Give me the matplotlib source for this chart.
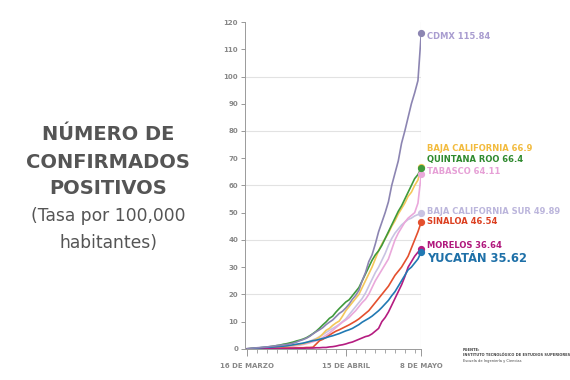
import matplotlib
matplotlib.use("Agg")
import matplotlib.pyplot as plt
import matplotlib.dates as mdates
import pandas as pd

# ---- data (tasa por 100,000 habitantes, 16 mar - 8 may) ----
dates = pd.date_range("2020-03-16", "2020-05-08", freq="D")

cdmx = [0.1, 0.2, 0.3, 0.4, 0.5, 0.6, 0.7, 0.9, 1.0, 1.2,
        1.3, 1.5, 1.6, 1.8, 2.1, 2.5, 3.0, 3.4, 3.9, 4.6,
        5.5, 6.3, 7.0, 7.8, 8.9, 9.8, 10.6, 11.8, 13.0, 13.8,
        15.0, 16.4, 18.2, 19.6, 21.5, 25.0, 28.0, 32.0, 34.5, 38.5,
        43.0, 46.5, 50.0, 54.0, 60.0, 64.5, 69.0, 75.5, 80.0, 85.0,
        90.0, 94.0, 98.5, 115.84]
baja_california = [0.0, 0.1, 0.1, 0.2, 0.3, 0.3, 0.4, 0.5, 0.6, 0.7,
                   0.8, 0.9, 1.0, 1.2, 1.3, 1.5, 1.7, 1.9, 2.2, 2.6,
                   3.0, 3.6, 4.3, 5.5, 6.8, 7.5, 8.6, 9.5, 10.2, 12.0,
                   14.0, 15.5, 17.0, 18.5, 20.0, 22.5, 25.0, 27.5, 30.0, 33.0,
                   36.0, 38.5, 40.5, 42.5, 45.0, 47.0, 49.5, 51.5, 53.5, 56.0,
                   57.5, 60.0, 62.0, 66.9]
quintana_roo = [0.0, 0.1, 0.2, 0.3, 0.4, 0.5, 0.6, 0.8, 1.0, 1.2,
                1.4, 1.7, 1.9, 2.2, 2.5, 2.9, 3.2, 3.6, 4.1, 4.8,
                5.6, 6.5, 7.6, 8.8, 9.9, 11.2, 12.0, 13.5, 14.8, 16.0,
                17.2, 18.0, 19.5, 21.0, 22.5, 25.0, 27.5, 30.0, 32.5, 34.5,
                36.0, 38.0, 40.5, 43.0, 45.5, 48.0, 50.5, 52.5, 55.0, 57.5,
                60.0, 62.5, 64.0, 66.4]
tabasco = [0.0, 0.0, 0.1, 0.1, 0.2, 0.2, 0.3, 0.3, 0.4, 0.5,
           0.6, 0.7, 0.8, 0.9, 1.0, 1.2, 1.4, 1.6, 1.9, 2.2,
           2.6, 3.0, 3.5, 4.2, 5.0, 5.8, 6.8, 7.8, 8.8, 9.8,
           10.6, 11.5, 12.8, 14.0, 15.5, 17.0, 18.2, 20.0, 22.5, 25.0,
           27.0, 29.0, 31.0, 33.0, 36.5, 40.0, 42.5, 44.5, 46.5, 48.0,
           49.0, 50.0, 53.5, 64.11]
baja_california_sur = [0.0, 0.0, 0.1, 0.1, 0.2, 0.2, 0.3, 0.4, 0.5, 0.6,
                       0.7, 0.8, 0.9, 1.0, 1.2, 1.4, 1.6, 1.9, 2.3, 2.8,
                       3.3, 3.8, 4.5, 5.2, 6.0, 6.8, 7.5, 8.2, 9.0, 10.0,
                       11.0, 12.5, 14.0, 15.5, 17.0, 18.5, 20.5, 23.0, 25.5, 28.0,
                       30.0, 32.5, 35.0, 38.0, 40.5, 42.5, 44.0, 45.5, 46.5, 47.5,
                       48.0, 48.8, 49.3, 49.89]
sinaloa = [0.0, 0.0, 0.0, 0.1, 0.1, 0.1, 0.1, 0.2, 0.2, 0.2,
           0.2, 0.3, 0.3, 0.3, 0.3, 0.4, 0.4, 0.4, 0.5, 0.5,
           0.6, 1.8, 3.0, 3.5, 4.2, 5.0, 5.8, 6.5, 7.0, 7.6,
           8.2, 8.8, 9.5, 10.2, 11.0, 12.0, 13.0, 14.0, 15.5, 17.0,
           18.5, 20.0, 21.5, 23.0, 25.0, 27.0, 28.5, 30.0, 32.0, 34.0,
           37.0, 40.0, 43.0, 46.54]
morelos = [0.0, 0.0, 0.0, 0.0, 0.0, 0.1, 0.1, 0.1, 0.1, 0.1,
           0.1, 0.1, 0.1, 0.2, 0.2, 0.2, 0.2, 0.2, 0.3, 0.3,
           0.3, 0.4, 0.4, 0.5, 0.5, 0.7, 0.8, 1.0, 1.3, 1.5,
           1.8, 2.2, 2.5, 3.0, 3.5, 4.0, 4.5, 4.8, 5.5, 6.5,
           7.5, 10.0, 11.5, 13.5, 16.0, 18.5, 21.0, 23.5, 26.5, 30.0,
           32.0, 34.0, 35.5, 36.64]
yucatan = [0.0, 0.1, 0.2, 0.3, 0.4, 0.5, 0.6, 0.6, 0.7, 0.8,
           0.9, 1.0, 1.1, 1.3, 1.5, 1.7, 1.9, 2.1, 2.4, 2.7,
           3.0, 3.2, 3.5, 3.8, 4.1, 4.5, 4.8, 5.2, 5.6, 6.1,
           6.6, 7.0, 7.5, 8.2, 8.9, 9.8, 10.5, 11.2, 12.0, 13.0,
           14.0, 15.2, 16.5, 17.8, 19.5, 21.0, 23.0, 25.0, 27.0, 29.0,
           30.0, 31.5, 33.0, 35.62]

# name, values, line colour, label colour, label y, label size
series = [
    ("BAJA CALIFORNIA SUR", baja_california_sur, "#c9c3e3", "#bcb6dc", 50.6, 6),
    ("TABASCO", tabasco, "#eaa8db", "#e6a0d6", 65.0, 6),
    ("BAJA CALIFORNIA", baja_california, "#f4c75a", "#f2bb3e", 73.4, 6),
    ("QUINTANA ROO", quintana_roo, "#3f9a3c", "#2f8a2f", 69.4, 6),
    ("SINALOA", sinaloa, "#e4502e", "#dc3f20", 46.6, 6),
    ("MORELOS", morelos, "#b51c80", "#b0167c", 37.8, 6),
    ("YUCATÁN", yucatan, "#2179b3", "#1e70a8", 33.2, 8.3),
    ("CDMX", cdmx, "#8c85b2", "#a99dd0", 114.8, 6),
]

fig = plt.figure(figsize=(5.7, 3.8), dpi=100)
ax = fig.add_axes([0.43, 0.082, 0.309, 0.86])

grey = "#9a9a9a"
for y in [20, 40, 60, 80, 100]:
    ax.axhline(y, color="#e2e2e2", lw=0.8, zorder=0)
ax.axvline(dates[-1], color="#d6d6d6", lw=0.8, zorder=0)

for name, vals, col, lcol, ly, fs in series:
    ax.plot(dates, vals, color=col, lw=1.2, zorder=2)
    ax.plot(dates[-1], vals[-1], "o", color=col, ms=4.2, zorder=3, clip_on=False)
    ax.annotate(f"{name} {vals[-1]:g}", xy=(dates[-1], ly), xytext=(4, 0),
                textcoords="offset points", ha="left", va="center",
                fontsize=fs, fontweight="bold", color=lcol, annotation_clip=False)

ax.set_ylim(0, 120)
ax.set_xlim(dates[0] - pd.Timedelta(days=0.7), dates[-1])
ax.set_yticks(range(0, 121, 10))
ax.tick_params(axis="y", labelsize=5, colors="#888888", length=3, width=0.6, pad=2)
for t in ax.get_yticklabels():
    t.set_fontweight("bold")

minor = list(pd.date_range(dates[0], dates[-1], freq="3D")) + [dates[-1]]
ax.set_xticks(minor, minor=True)
ax.set_xticks([pd.Timestamp("2020-03-16"), pd.Timestamp("2020-04-15"), dates[-1]])
ax.set_xticklabels(["16 DE MARZO", "15 DE ABRIL", "8 DE MAYO"])
ax.tick_params(axis="x", which="major", labelsize=5, colors="#888888", length=5, width=0.6, pad=5)
ax.tick_params(axis="x", which="minor", colors="#999999", length=3, width=0.6)
for t in ax.get_xticklabels():
    t.set_fontweight("bold")

for s in ["top", "right"]:
    ax.spines[s].set_visible(False)
for s in ["left", "bottom"]:
    ax.spines[s].set_color(grey)
    ax.spines[s].set_linewidth(0.7)

# left title block
tcol = "#555555"
fig.text(0.19, 1 - 134 / 380, "NÚMERO DE", ha="center", va="center",
         fontsize=14, fontweight="bold", color=tcol)
fig.text(0.19, 1 - 162 / 380, "CONFIRMADOS", ha="center", va="center",
         fontsize=14, fontweight="bold", color=tcol)
fig.text(0.19, 1 - 189 / 380, "POSITIVOS", ha="center", va="center",
         fontsize=14, fontweight="bold", color=tcol)
fig.text(0.19, 1 - 216 / 380, "(Tasa por 100,000", ha="center", va="center",
         fontsize=12.3, color=tcol)
fig.text(0.19, 1 - 243 / 380, "habitantes)", ha="center", va="center",
         fontsize=12.3, color=tcol)

# source
fig.text(463 / 570, 1 - 350 / 380, "FUENTE:", fontsize=2.6, color="#444444",
         fontweight="bold", va="center")
fig.text(463 / 570, 1 - 355 / 380, "INSTITUTO TECNOLÓGICO DE ESTUDIOS SUPERIORES",
         fontsize=2.6, color="#444444", fontweight="bold", va="center")
fig.text(463 / 570, 1 - 361 / 380, "Escuela de Ingeniería y Ciencias",
         fontsize=2.6, color="#444444", va="center")

fig.savefig("out.png", dpi=100)
